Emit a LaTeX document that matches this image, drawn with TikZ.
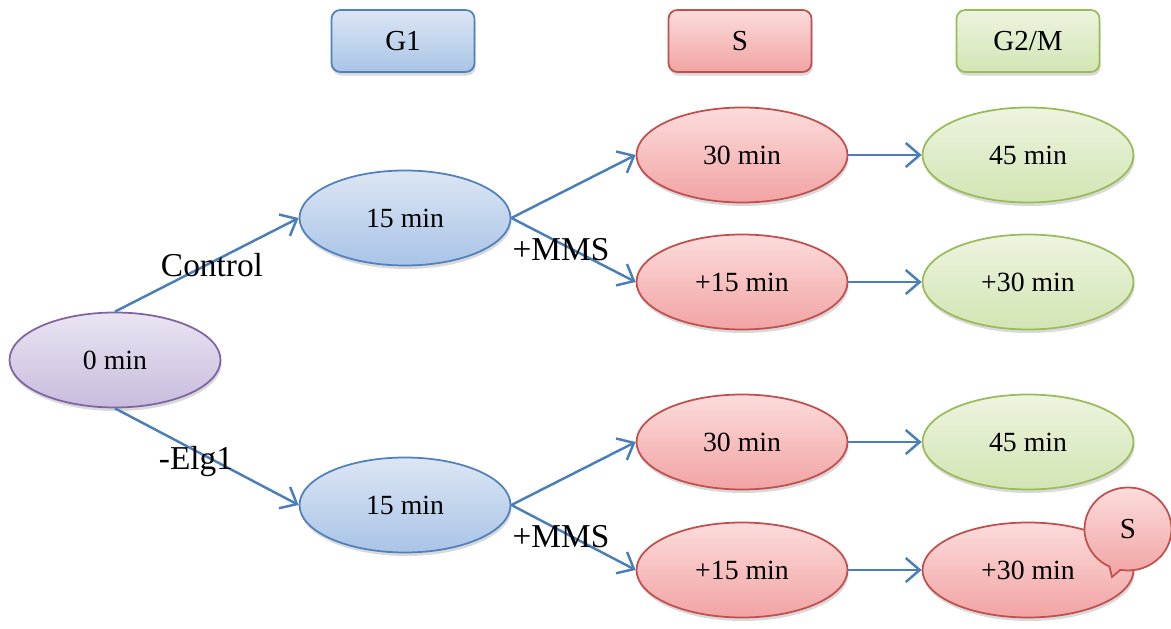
\documentclass[tikz,border=0pt]{standalone}
\usepackage{fontspec}
\setmainfont{Liberation Serif}
\usepackage{tikz}
\usetikzlibrary{shapes, shapes.callouts, arrows.meta, positioning, shadows}

\definecolor{bluetop}{HTML}{DCE6F4}
\definecolor{bluebot}{HTML}{A9C4E7}
\definecolor{blueline}{HTML}{4F81BD}
\definecolor{redtop}{HTML}{FCDCDC}
\definecolor{redbot}{HTML}{F2A3A3}
\definecolor{redline}{HTML}{C0504D}
\definecolor{greentop}{HTML}{EDF4E0}
\definecolor{greenbot}{HTML}{D2E5B3}
\definecolor{greenline}{HTML}{9BBB59}
\definecolor{purptop}{HTML}{EAE4F2}
\definecolor{purpbot}{HTML}{C8BCDD}
\definecolor{purpline}{HTML}{8064A2}
\definecolor{arrowblue}{HTML}{4A7EBB}

\begin{document}
\begin{tikzpicture}[
    every node/.style={font=\fontsize{15.8}{18}\selectfont},
    stage/.style={ellipse, draw, line width=1pt, minimum width=4.22cm,
                minimum height=1.9cm, inner sep=0pt,
                drop shadow={opacity=0.3, shadow xshift=0.6pt, shadow yshift=-2pt}},
    phase/.style={rectangle, draw, line width=1pt, rounded corners=5pt,
                minimum width=2.86cm, minimum height=1.24cm,
                font=\fontsize{16.5}{19}\selectfont,
                drop shadow={opacity=0.3, shadow xshift=0.6pt, shadow yshift=-2pt}},
    blu/.style={top color=bluetop, bottom color=bluebot, draw=blueline},
    rd/.style={top color=redtop, bottom color=redbot, draw=redline},
    grn/.style={top color=greentop, bottom color=greenbot, draw=greenline},
    prp/.style={top color=purptop, bottom color=purpbot, draw=purpline},
    lbl/.style={font=\fontsize{19}{22}\selectfont, inner sep=0pt},
    arrow/.style={-{Straight Barb[length=2.8mm, width=4.8mm]}, line width=1.4pt,
                draw=arrowblue}
]
\useasboundingbox (0,0) rectangle (23.42,12.56);

% === PHASE HEADERS ===
\node[phase, blu] (hg1) at (8.06,11.74) {G1};
\node[phase, rd] (hs) at (14.80,11.74) {S};
\node[phase, grn] (hg2) at (20.56,11.74) {G2/M};

% === START ===
\node[stage, prp] (t0) at (2.30,5.36) {0 min};

% === CONTROL BRANCH ===
\node[stage, blu] (cg1) at (8.10,8.20) {15 min};
\node[stage, rd] (cs1) at (14.84,9.46) {30 min};
\node[stage, rd] (cs2) at (14.84,6.92) {+15 min};
\node[stage, grn] (cg21) at (20.56,9.46) {45 min};
\node[stage, grn] (cg22) at (20.56,6.92) {+30 min};

% === ELG1 BRANCH ===
\node[stage, blu] (eg1) at (8.10,2.46) {15 min};
\node[stage, rd] (es1) at (14.84,3.72) {30 min};
\node[stage, rd] (es2) at (14.84,1.16) {+15 min};
\node[stage, grn] (eg21) at (20.56,3.72) {45 min};
\node[stage, rd] (eg22) at (20.56,1.16) {+30 min};

% === ARROWS ===
\draw[arrow] (t0.north) -- (cg1.west);
\draw[arrow] (t0.south) -- (eg1.west);
\draw[arrow] (cg1.east) -- (cs1.west);
\draw[arrow] (cg1.east) -- (cs2.west);
\draw[arrow] (cs1.east) -- (cg21.west);
\draw[arrow] (cs2.east) -- (cg22.west);
\draw[arrow] (eg1.east) -- (es1.west);
\draw[arrow] (eg1.east) -- (es2.west);
\draw[arrow] (es1.east) -- (eg21.west);
\draw[arrow] (es2.east) -- (eg22.west);

% === LABELS ===
\node[lbl] (lctrl) at (4.24,7.26) {Control};
\node[lbl] (lelg) at (3.92,3.32) {-Elg1};
\node[lbl] (lmms1) at (11.22,7.56) {+MMS};
\node[lbl] (lmms2) at (11.22,1.82) {+MMS};

% === CALLOUT ===
\coordinate (tip) at (22.24,1.02);
\node[ellipse callout, rd, line width=1pt, minimum width=1.74cm,
      minimum height=1.66cm, inner sep=0pt, callout absolute pointer={(tip)},
      font=\fontsize{16.5}{19}\selectfont] (cs) at (22.56,1.98) {S};

\end{tikzpicture}
\end{document}
